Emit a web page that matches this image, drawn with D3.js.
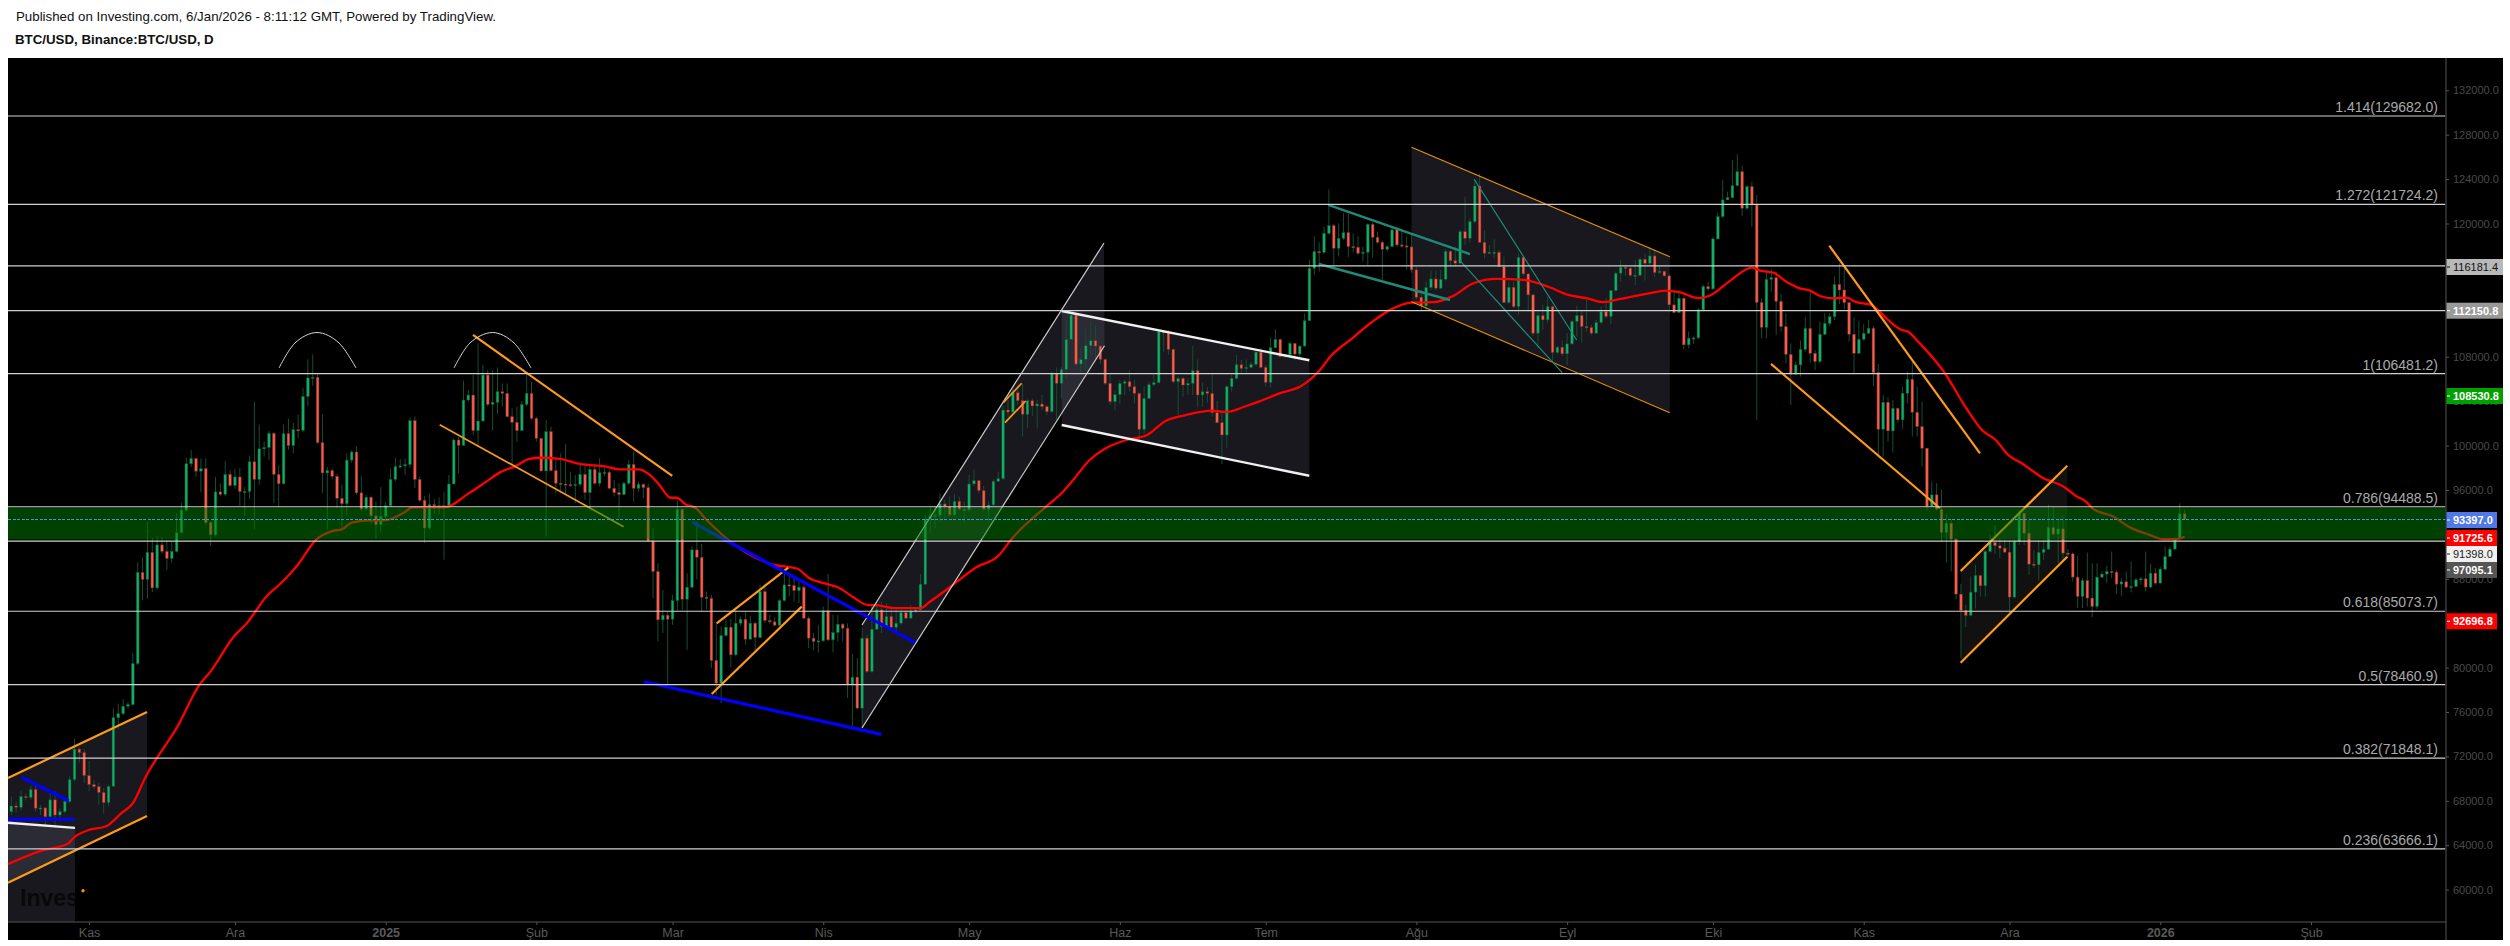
<!DOCTYPE html>
<html><head><meta charset="utf-8">
<script src="https://cdnjs.cloudflare.com/ajax/libs/d3/7.8.5/d3.min.js"></script>
<style>html,body{margin:0;padding:0;background:#fff;width:2510px;height:946px;overflow:hidden}svg{display:block}text{font-family:"Liberation Sans",Arial,sans-serif}</style>
</head><body><svg id="c" width="2510" height="946"></svg>
<script>
// Daily candles, one per day from startDay. Prices in thousands of USD.
const startDay = "2024-10-16";
const firstOpen = 67.02;
const closes = [67.54,67.42,68.39,68.30,69.03,67.33,67.36,66.57,68.09,66.72,67.02,67.94,69.92,72.66,72.35,70.28,69.46,69.28,68.76,67.84,69.31,75.49,75.85,76.52,76.67,80.36,88.58,87.94,90.38,87.18,91.05,90.47,89.83,90.47,92.14,94.18,98.36,98.84,97.69,97.93,93.06,91.96,95.83,95.61,97.41,96.41,97.17,95.86,95.86,98.54,96.95,99.70,99.82,101.10,97.41,96.56,101.07,100.0,101.43,101.37,104.41,106.09,106.15,100.27,97.53,97.75,97.23,95.25,94.76,98.69,99.42,95.74,94.28,95.34,93.67,92.87,93.61,94.58,96.95,98.11,98.17,98.29,102.25,96.95,95.07,92.57,94.68,94.58,94.58,94.46,
96.54,100.5,100.02,104.1,104.55,101.34,102.21,106.35,103.71,103.89,104.85,104.7,102.6,102.09,101.34,103.71,104.7,102.45,100.65,97.71,101.25,97.74,96.6,96.54,96.48,96.45,96.51,97.41,95.76,97.86,96.6,97.56,97.59,96.15,95.76,95.58,96.6,98.31,96.15,96.51,96.21,91.41,88.65,84.3,84.72,84.36,86.04,94.26,86.16,87.24,90.6,89.94,86.34,86.25,80.64,78.6,82.89,83.64,81.15,84.0,84.36,82.56,84.0,82.71,86.85,84.24,84.12,83.82,86.04,87.45,87.39,86.94,87.24,84.45,82.65,82.35,82.41,85.14,82.5,83.16,83.91,83.55,78.45,79.14,76.35,82.65,79.65,83.46,85.2,83.7,
84.6,83.64,84.0,84.96,84.45,85.11,85.2,87.51,93.36,93.66,93.72,94.74,94.5,93.75,94.98,94.26,94.2,96.54,96.84,95.94,94.26,94.65,96.78,97.02,103.2,103.02,104.76,104.04,102.81,104.04,103.56,103.74,103.5,103.05,106.5,105.6,106.86,109.56,111.75,107.34,107.76,108.99,109.44,108.96,107.76,105.6,103.95,104.58,105.6,105.75,105.3,104.7,101.46,104.25,105.48,105.66,110.25,110.22,108.66,105.75,106.05,105.45,105.6,106.74,104.55,104.85,104.7,102.96,102.06,100.95,105.3,106.05,107.28,106.95,107.04,107.31,108.42,107.04,105.69,108.81,109.56,108.0,108.18,109.2,108.24,108.96,111.24,115.97,117.47,117.41,
119.12,119.81,117.77,118.67,119.18,117.92,117.86,117.32,117.41,119.93,118.76,118.31,117.68,117.92,119.42,118.07,117.98,117.89,115.82,113.36,112.58,114.23,115.01,114.17,114.98,117.5,116.66,116.42,119.27,118.67,120.17,123.38,118.31,117.32,117.41,117.41,116.12,112.88,114.26,112.52,116.96,115.46,113.57,110.12,111.71,111.32,112.52,108.38,108.86,108.26,109.16,111.17,111.71,110.72,110.63,110.12,111.08,112.07,111.62,113.96,115.52,116.06,115.97,115.34,115.34,116.78,116.42,117.08,115.58,115.7,115.28,112.67,111.98,113.27,109.07,109.67,109.7,112.22,114.32,114.11,118.61,120.62,122.12,122.33,123.41,124.67,121.37,123.32,121.67,112.88,
110.65,114.97,115.12,112.99,110.71,108.22,106.42,107.26,108.67,110.56,108.31,107.56,110.02,111.0,111.61,114.52,114.01,112.87,110.02,108.31,109.57,110.11,110.56,106.57,101.47,103.9,101.32,103.36,102.31,104.71,105.97,103.0,101.71,99.76,94.51,95.56,94.27,92.17,93.01,91.57,86.62,85.15,84.7,86.8,88.3,87.37,90.46,91.27,90.97,90.76,90.4,86.35,91.36,93.91,92.11,89.32,89.26,90.37,90.67,92.62,92.02,92.5,90.31,90.25,88.15,86.41,87.85,86.26,85.51,88.15,88.42,88.66,88.6,87.52,87.73,87.25,87.31,87.91,88.0,87.25,88.51,87.61,88.87,90.01,90.67,91.57,93.85,93.37];
const highs = [68.39,67.94,68.94,68.70,69.37,69.37,67.63,67.47,68.70,68.85,67.33,68.24,70.22,73.57,72.81,72.66,71.59,69.85,69.61,69.15,69.46,76.31,76.77,77.16,76.92,81.33,89.49,89.95,93.12,91.69,91.84,91.78,91.47,91.38,93.91,94.82,98.90,99.60,98.84,98.84,98.84,93.21,97.17,96.56,98.60,97.78,97.93,97.99,96.25,99.09,103.96,101.89,100.37,101.34,101.22,98.23,101.89,102.44,102.04,102.80,105.18,107.77,108.22,106.46,102.80,98.08,97.93,97.47,96.47,99.30,99.57,99.91,97.22,95.55,95.49,94.94,96.25,94.94,97.93,98.90,98.78,98.84,102.50,102.62,97.23,95.43,95.71,95.19,95.34,95.86,
97.35,100.65,100.8,105.84,105.0,106.35,109.26,107.25,106.8,106.8,107.04,105.6,105.6,103.35,103.5,104.01,106.44,105.75,102.6,100.65,102.3,101.7,98.7,99.3,100.14,97.65,97.35,98.4,98.4,98.25,98.34,98.85,97.95,97.74,96.9,96.6,96.75,98.7,99.45,96.75,96.6,96.54,92.55,89.4,87.0,85.05,86.55,95.04,94.35,88.5,90.9,93.15,91.14,86.85,86.55,84.0,83.7,84.36,84.36,85.2,84.6,85.05,84.66,84.15,87.45,87.6,84.75,84.54,86.16,88.8,88.5,88.2,87.75,87.45,84.6,83.1,83.85,85.5,88.44,84.75,84.75,84.0,84.0,81.24,80.85,83.55,82.95,85.8,85.8,85.95,
85.8,85.35,85.35,85.2,85.2,85.65,85.35,88.44,93.75,94.5,94.5,95.7,95.1,95.4,95.64,95.4,94.95,97.35,97.86,96.9,96.36,94.95,96.96,97.65,103.56,104.1,105.15,105.36,105.54,104.16,104.25,104.1,104.55,103.65,106.65,107.04,107.1,111.3,111.9,111.9,108.75,110.55,111.15,110.85,109.05,107.85,106.35,105.0,105.9,105.9,106.8,105.9,104.76,105.36,105.75,106.35,110.4,110.4,110.4,108.75,106.2,106.2,106.05,108.96,107.76,105.66,105.24,106.5,104.04,103.05,105.45,106.35,108.15,107.7,107.76,107.55,108.6,108.75,107.25,109.74,110.46,109.62,108.24,109.35,109.26,109.05,111.9,116.72,118.82,118.3,
119.72,123.08,119.96,120.02,120.92,120.86,119.12,118.88,117.92,120.02,120.08,119.27,118.46,118.07,119.57,119.72,119.42,118.82,118.97,116.12,114.02,114.77,115.76,115.76,115.82,117.68,117.62,117.92,119.42,122.42,120.47,123.92,124.46,119.42,118.07,118.58,117.62,117.02,114.77,114.77,117.32,117.08,115.52,113.66,112.22,112.67,113.42,112.58,108.98,109.46,110.12,111.32,112.58,112.22,113.36,110.87,111.32,112.52,113.27,114.02,115.67,116.72,116.27,116.12,116.72,116.96,117.32,117.92,117.62,116.12,115.76,115.46,113.87,114.02,113.42,110.27,109.82,112.37,114.47,114.77,118.76,120.98,123.92,122.87,125.72,126.23,125.18,123.47,123.77,122.57,
113.26,115.81,115.87,115.66,113.65,111.91,109.21,107.56,109.45,111.61,114.01,108.6,111.16,111.91,111.91,115.21,116.41,115.96,112.96,111.55,111.25,110.95,111.31,110.77,107.35,104.56,104.35,104.11,103.45,105.31,106.66,107.56,105.31,103.96,99.76,96.76,96.61,96.01,93.85,93.31,91.66,87.55,85.66,88.21,89.26,88.36,90.61,91.96,92.86,91.66,91.51,91.45,91.51,94.21,93.91,93.37,90.61,91.51,91.51,94.66,94.51,93.31,93.61,90.67,90.37,90.07,88.06,90.37,89.4,89.41,88.66,89.17,90.46,88.81,88.06,88.66,89.56,88.06,88.15,90.46,89.35,88.96,89.05,90.91,90.91,91.75,94.81,94.21];
const lows = [66.72,66.93,67.12,68.03,68.09,67.02,66.72,65.50,66.51,65.65,66.41,66.87,67.78,69.76,71.44,69.61,68.85,69.06,67.63,66.87,67.54,69.25,74.48,75.70,76.31,76.55,80.21,86.05,86.21,86.81,87.03,90.26,88.79,89.46,90.38,92.14,94.12,98.08,97.17,95.80,92.90,90.93,91.84,95.43,95.43,96.25,96.10,94.58,93.67,95.19,92.45,96.47,99.0,98.69,94.82,94.43,96.47,99.60,99.30,100.67,101.22,103.56,105.39,100.12,95.74,92.45,96.95,94.37,92.51,93.67,98.48,95.55,94.12,94.12,92.90,91.60,92.14,93.21,94.52,96.77,97.93,97.38,97.99,96.16,94.94,91.23,92.39,93.82,93.82,89.71,
94.35,96.54,97.5,99.96,103.95,100.95,100.14,102.15,103.5,101.34,102.84,103.5,102.54,98.16,100.35,101.4,103.56,102.3,100.35,97.65,91.8,97.65,95.7,95.76,95.55,96.3,94.8,96.3,95.1,94.2,96.45,96.3,97.26,96.06,95.4,93.45,95.55,96.45,94.95,95.85,95.25,91.3,86.25,82.35,83.1,78.45,83.85,85.14,85.2,81.6,87.15,87.96,85.05,85.26,79.95,77.55,76.8,82.8,80.04,81.0,83.76,82.05,82.5,81.45,82.65,84.0,83.94,83.7,83.7,85.95,86.4,85.95,85.8,84.36,81.75,81.6,81.36,82.35,82.35,81.36,82.35,82.35,77.25,74.55,76.26,74.55,79.5,79.5,83.4,83.1,
83.55,83.55,83.16,83.85,84.36,84.36,84.9,85.2,87.45,92.1,92.55,93.15,93.45,93.6,93.66,94.14,93.0,94.05,96.36,95.7,94.14,93.3,94.5,96.72,96.9,102.6,102.84,103.65,100.8,101.55,102.66,101.55,103.2,102.75,102.96,102.3,104.25,106.05,109.56,107.1,106.5,106.8,108.06,107.7,107.34,105.45,103.65,103.14,103.74,104.55,104.85,103.8,100.4,101.1,104.16,105.3,105.6,108.45,108.15,105.6,102.75,104.4,104.55,104.55,103.44,103.5,103.86,102.6,102.0,98.34,99.75,104.85,105.9,106.56,106.44,106.95,107.16,106.95,105.3,105.24,108.75,107.94,107.85,107.94,107.7,108.0,108.9,111.29,115.37,115.67,
117.26,118.97,115.97,117.02,118.52,116.96,117.38,117.17,116.57,116.27,116.96,118.16,114.86,117.47,117.86,117.86,117.77,115.82,115.58,113.18,112.13,112.16,114.02,114.02,114.08,114.86,116.12,116.12,116.42,118.07,118.28,120.02,118.22,116.87,117.26,116.87,116.06,112.82,112.76,112.37,111.77,115.22,112.07,109.88,108.77,110.42,111.02,107.42,108.26,108.08,107.27,109.07,109.82,109.28,110.27,109.97,110.06,110.96,111.47,110.96,113.87,114.77,115.28,115.16,114.47,115.28,114.86,116.27,115.16,115.46,115.22,111.98,111.92,111.92,108.68,108.77,109.16,109.58,112.07,113.96,114.02,119.27,120.47,122.12,122.27,123.41,120.68,121.22,119.72,102.32,
109.66,109.66,113.86,109.96,110.26,107.41,103.66,106.36,106.21,108.46,107.47,106.81,107.41,109.96,110.77,111.31,112.75,112.27,109.36,106.45,108.25,109.45,110.05,105.37,98.86,99.0,100.36,99.37,102.07,101.5,103.81,100.81,100.81,98.11,94.15,94.51,94.15,91.36,89.47,88.66,86.17,80.86,83.65,84.61,85.3,86.41,86.41,90.37,90.25,89.86,90.31,84.76,86.26,91.06,91.06,88.36,88.96,87.85,89.71,90.61,91.96,89.41,89.56,89.86,87.76,85.36,85.36,85.51,84.55,85.27,88.06,87.61,88.06,86.65,86.47,87.16,86.77,87.25,87.46,86.86,87.16,87.46,87.55,88.75,89.95,90.61,91.51,93.31];

// Moving average read at turning points: day number since startDay, price.
const maDays = [-0.7,6.2,11.6,13,15.8,19.5,22.6,25,27.7,30,33.9,38.7,41,45.9,48.3,52.7,55,58.9,62.7,66,68,70,74,76.7,80.8,82.5,89,94.3,97.7,100.8,103.5,106.6,108.7,112.8,116.9,122.4,125,129,131.2,133.3,135.6,136.8,138.7,140.8,143,145,148,156.5,161.7,164,168,170,173.5,176,178.3,182,187,189,193.4,198.5,203,205.7,213,216,218.4,221.8,224.5,229.3,233.4,237.5,241.6,247,249.9,254,256.7,260.8,265.3,269.2,271.3,275.4,280,283.6,288,292.5,296.6,300.7,305.5,311,316.4,320.2,324,327.4,330.1,336.3,340.4,343.1,347,349.4,353.5,358,359.7,362.4,365.1,367.9,370,372,374.7,377.5,379.2,382.6,386,388.8,390.1,392.2,397.7,402.1,405.5,408,410.7,413.8,417.6,422.3,424.8,426.5,428.2,432.3,435.7,439.8,442.5,444.9,447];
const maValues = [62.3,63.52,64.13,64.74,65.35,65.71,66.87,67.78,70.22,71.89,74.48,78.44,79.66,82.86,83.92,86.51,87.42,89.25,91.53,92.30,92.45,93.06,93.26,93.26,93.97,94.43,94.43,95.76,96.75,97.65,98.1,98.8,98.9,98.8,98.34,98.1,97.86,97.86,97.4,96.45,95.3,95.3,94.7,94.35,93.3,92.46,91.3,89.3,88.9,88.1,87.5,87.24,86.25,85.65,85.6,85.35,85.35,85.95,87.36,89.04,90.06,91.56,94.56,95.7,96.9,98.7,99.6,100.5,100.9,102.24,102.75,103.14,103.02,103.56,103.98,104.7,105.36,106.82,108.02,109.52,111.17,112.22,112.88,112.91,113.48,114.62,115.01,114.92,114.26,113.57,113.27,112.91,113.12,113.66,113.96,113.81,113.27,113.51,114.83,116.03,115.75,115.57,114.76,114.16,113.95,113.47,113.26,113.32,112.96,112.66,111.31,110.41,110.26,109.36,106.51,103.36,101.32,100.57,99.16,98.32,97.15,96.25,95.41,95.02,94.3,93.61,92.65,91.96,91.57,91.57,91.78];

// Horizontal levels: price, caption.
const levelPrices = [129.682,121.7242,116.1814,112.1508,106.4812,94.4885,91.398,85.0737,78.4609,71.8481,63.6661];
const captionPrices = [129.682,121.7242,106.4812,94.4885,85.0737,78.4609,71.8481,63.6661];
const levelCaptions = ["1.414(129682.0)","1.272(121724.2)","1(106481.2)","0.786(94488.5)","0.618(85073.7)","0.5(78460.9)","0.382(71848.1)","0.236(63666.1)"];
const zoneTop = 94.4, zoneBottom = 91.54, lastPrice = 93.397;

// Trend lines: [day, price, day, price].
const orangeThick = [[-0.68,70.06,27.91,76.0],[-0.68,60.63,27.91,66.63],[94.96,109.96,135.95,97.26],[145.08,83.99,159.81,89.0],[144.06,77.62,162.57,85.49],[373.92,118.0,404.92,99.3],[361.93,107.35,396.68,94.35],[400.94,88.7,422.87,98.18],[400.94,80.44,422.87,89.99]];
const orangeMedium = [[88.11,101.88,125.95,92.69],[204.03,103.86,207.81,105.61],[204.38,102.06,208.64,104.01]];
const orangeThin = [[287.99,126.86,341.11,117.01],[287.99,112.96,341.11,102.96]];
const blueThick = [[-0.68,66.34,13.1,66.34],[2.14,70.12,11.8,68.01],[140.07,93.09,185.87,82.28],[130.13,78.73,178.94,73.99]];
const whiteThick = [[-0.68,66.03,13.1,65.56],[216.04,112.12,266.97,107.68],[216.04,101.85,266.97,97.28]];
const whiteThin = [[174.97,83.84,224.74,118.24],[174.97,74.56,224.85,108.99]];
const tealThick = [[270.87,121.67,300.02,117.25],[268.94,116.35,295.9,113.11]];
const tealThin = [[300.9,123.98,321.96,109.51],[297.96,116.65,319.0,106.56]];
// Shaded channels as day/price polygons.
const channels = [
 [[-0.68,70.06],[27.91,76.0],[27.91,66.63],[-0.68,60.63]],
 [[-0.68,66.03],[13.1,65.56],[13.1,57.09],[-0.68,57.09]],
 [[174.97,83.84],[224.74,118.24],[224.85,108.99],[174.97,74.56]],
 [[216.04,112.12],[266.97,107.68],[266.97,97.28],[216.04,101.85]],
 [[287.99,126.86],[341.11,117.01],[341.11,102.96],[287.99,112.96]]
];
const darkChannel = [[400.94,88.7],[422.87,98.18],[422.87,89.99],[400.94,80.44]];
// Arcs above the two tops.
const arcDays1 = [55.06,58.35,62.88,67.4,70.9], arcDays2 = [91.05,94.34,98.95,103.4,106.9];
const arcPrices = [106.98,109.24,110.18,109.24,106.98];
const dotDay = 14.75, dotPrice = 59.9;

const priceTicks = d3.range(60,133,4);
const timeDates = ["2024-11-01","2024-12-01","2025-01-01","2025-02-01","2025-03-01","2025-04-01","2025-05-01","2025-06-01","2025-07-01","2025-08-01","2025-09-01","2025-10-01","2025-11-01","2025-12-01","2026-01-01","2026-02-01"];
const timeLabels = ["Kas","Ara","2025","Şub","Mar","Nis","May","Haz","Tem","Ağu","Eyl","Eki","Kas","Ara","2026","Şub"];

const priceTags = ["116181.4","112150.8","108530.8","93397.0","91725.6","91398.0","97095.1","92696.8"];
const tagFills = ["#b8b8b8","#999999","#00a000","#5078e6","#ff0000","#f0f0f0","#555555","#ff0000"];
const tagTexts = ["#111","#fff","#fff","#fff","#fff","#222","#fff","#fff"];
const tagCenters = [267,310.7,396,520,538,554,570,621.3];
const tagRight = [2503,2503,2503,2497,2497,2497,2497,2497];

const svg = d3.select("#c");
const t0 = new Date(startDay+"T00:00:00Z");
const dayDate = d => new Date(+t0 + d*864e5);
const x = d3.scaleUtc().domain([dayDate(0),dayDate(447)]).range([11.3,2184.6]);
const X = d => x(dayDate(d));
const y = d3.scaleLinear().domain([80,132]).range([667.6,90.26]);
const L=8,R=2445.5,T=58,B=922;

svg.append("defs").append("clipPath").attr("id","plot").append("rect").attr("x",L).attr("y",T).attr("width",R-L).attr("height",B-T);
svg.select("defs").append("clipPath").attr("id","wm").append("rect").attr("x",L).attr("y",T).attr("width",75-L).attr("height",B-T);

svg.append("rect").attr("x",L).attr("y",T).attr("width",2503-L).attr("height",940-T).attr("fill","#000");

const plot = svg.append("g").attr("clip-path","url(#plot)");
const poly = p => p.map(q=>[X(q[0]),y(q[1])].join(",")).join(" ");
plot.selectAll(".ch").data(channels).join("polygon").attr("points",poly).attr("fill","rgba(120,120,150,0.2)");
plot.append("polygon").attr("points",poly(darkChannel)).attr("fill","rgba(255,255,255,0.065)");

plot.append("text").attr("clip-path","url(#wm)").attr("x",20).attr("y",906).attr("font-size",23).attr("font-weight","bold").attr("fill","#08080a").text("Investing");

// candles
const candles = closes.map((c,i)=>({i,c,o:i?closes[i-1]:firstOpen,h:highs[i],l:lows[i]}));
const cg = plot.append("g");
cg.selectAll("line").data(candles).join("line")
  .attr("x1",d=>X(d.i)).attr("x2",d=>X(d.i)).attr("y1",d=>y(d.h)).attr("y2",d=>y(d.l))
  .attr("stroke","#174d31").attr("stroke-width",1);
cg.selectAll("rect").data(candles).join("rect")
  .attr("x",d=>X(d.i)-1.35).attr("width",2.7)
  .attr("y",d=>y(Math.max(d.o,d.c))).attr("height",d=>Math.max(1.2,Math.abs(y(d.o)-y(d.c))))
  .attr("fill",d=>d.c>=d.o?"#0fb066":"#f55d4c")
  .attr("stroke",d=>d.c>=d.o?"#174d31":"#6d2a23").attr("stroke-width",0.5);

// moving average
const ma = d3.line().x((d,i)=>X(maDays[i])).y(d=>y(d)).curve(d3.curveMonotoneX);
plot.append("path").attr("d",ma(maValues)).attr("fill","none").attr("stroke","#f00").attr("stroke-width",2.3);

// trend lines
function seg(rows,col,w){plot.append("g").selectAll("line").data(rows).join("line")
 .attr("x1",r=>X(r[0])).attr("y1",r=>y(r[1])).attr("x2",r=>X(r[2])).attr("y2",r=>y(r[3]))
 .attr("stroke",col).attr("stroke-width",w);}
seg(whiteThin,"#cfcfcf",1.2);
seg(whiteThick,"#f0f0f0",2.4);
seg(orangeThick,"#ff9a1a",2.2);
seg(orangeMedium,"#f59a1e",1.7);
seg(orangeThin,"#e8900c",1.1);
seg(tealThick,"#1f8a78",2.4);
seg(tealThin,"#1f8a78",1.2);
seg(blueThick,"#0000ff",3.2);
plot.append("circle").attr("cx",X(dotDay)).attr("cy",y(dotPrice)).attr("r",1.7).attr("fill","#f09010");
const arc = d3.line().curve(d3.curveCardinal);
[arcDays1,arcDays2].forEach(a=>plot.append("path").attr("d",arc(a.map((d,i)=>[X(d),y(arcPrices[i])]))).attr("fill","none").attr("stroke","#d8d8d8").attr("stroke-width",1));

// zone on top
plot.append("rect").attr("x",L).attr("width",R-L).attr("y",y(zoneTop)).attr("height",y(zoneBottom)-y(zoneTop)).attr("fill","rgba(0,128,0,0.5)");

// levels
plot.append("g").selectAll("line").data(levelPrices).join("line")
 .attr("x1",L).attr("x2",R).attr("y1",d=>y(d)).attr("y2",d=>y(d)).attr("stroke","#d0d0d0").attr("stroke-width",1.2);
svg.append("g").selectAll("text").data(levelCaptions).join("text")
 .attr("x",2438).attr("y",(d,i)=>y(captionPrices[i])-4).attr("text-anchor","end").attr("font-size",14).attr("fill","#aaa").text(d=>d);
plot.append("line").attr("x1",L).attr("x2",R).attr("y1",Math.round(y(lastPrice))+0.5).attr("y2",Math.round(y(lastPrice))+0.5).attr("stroke","#4a90f5").attr("stroke-width",1).attr("stroke-dasharray","3 1.5").attr("shape-rendering","crispEdges");

// axes
const yAxis = d3.axisRight(y).tickValues(priceTicks).tickSize(3).tickPadding(4).tickFormat(d=>(d*1000).toFixed(1));
const gy = svg.append("g").attr("transform","translate(2446,0)").call(yAxis);
gy.select(".domain").remove();
gy.selectAll("line").attr("stroke","#555");
gy.selectAll("text").attr("fill","#4a4a4a").attr("font-size",11).attr("font-family","'Liberation Sans',Arial,sans-serif");
svg.append("line").attr("x1",2446).attr("x2",2446).attr("y1",T).attr("y2",940).attr("stroke","#555");

const xAxis = d3.axisBottom(x).tickValues(timeDates.map(d=>new Date(d+"T00:00:00Z"))).tickSize(3).tickPadding(3).tickFormat((d,i)=>timeLabels[i]);
const gx = svg.append("g").attr("transform",`translate(0,${B})`).call(xAxis);
gx.select(".domain").remove();
gx.selectAll("line").attr("stroke","#555");
gx.selectAll("text").attr("fill","#5a5a5a").attr("font-size",12.5).attr("font-weight",(d,i)=>/^20/.test(timeLabels[i])?"bold":"normal").attr("font-family","'Liberation Sans',Arial,sans-serif");
svg.append("line").attr("x1",L).attr("x2",2446).attr("y1",B).attr("y2",B).attr("stroke","#555");

// price tags
const tg = svg.append("g").selectAll("g").data(priceTags).join("g");
tg.append("rect").attr("x",2446.5).attr("y",(d,i)=>tagCenters[i]-8).attr("width",(d,i)=>tagRight[i]-2446.5).attr("height",16).attr("fill",(d,i)=>tagFills[i]);
tg.append("line").attr("x1",2447).attr("x2",2450).attr("y1",(d,i)=>tagCenters[i]).attr("y2",(d,i)=>tagCenters[i]).attr("stroke",(d,i)=>tagTexts[i]);
tg.append("text").attr("x",2453).attr("y",(d,i)=>tagCenters[i]+4).attr("font-size",11).attr("font-weight",(d,i)=>tagTexts[i]==="#fff"?"bold":"normal").attr("fill",(d,i)=>tagTexts[i]).text(d=>d);

svg.append("text").attr("x",16).attr("y",21).attr("font-size",13.3).attr("fill","#111").text("Published on Investing.com, 6/Jan/2026 - 8:11:12 GMT, Powered by TradingView.");
svg.append("text").attr("x",15).attr("y",44).attr("font-size",13.3).attr("font-weight","bold").attr("fill","#111").text("BTC/USD, Binance:BTC/USD, D");
</script></body></html>
